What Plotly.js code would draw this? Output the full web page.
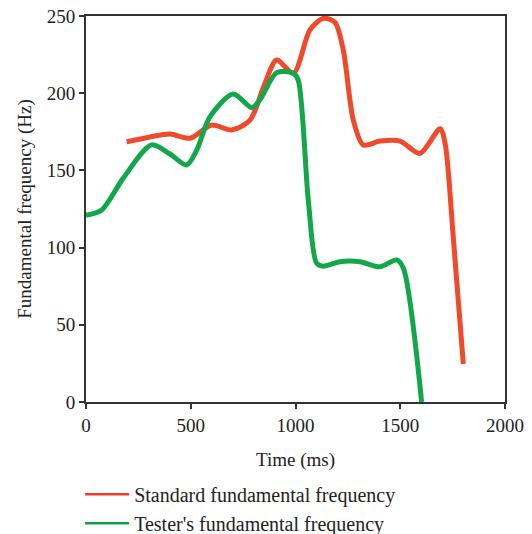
<!DOCTYPE html>
<html>
<head>
<meta charset="utf-8">
<script src="https://cdn.plot.ly/plotly-3.0.1.min.js"></script>
<style>html,body{margin:0;padding:0;background:#fff;}#chart{width:532px;height:534px;}</style>
</head>
<body>
<div id="chart"></div>
<script>
const standardTime = [194, 300, 401, 496, 600, 695, 783, 850, 910, 990, 1069, 1133, 1188, 1228, 1276, 1324, 1403, 1499, 1594, 1690, 1714, 1753, 1801];
const standardFreq = [168.6, 171.5, 173.6, 170.8, 179.4, 176.2, 182.6, 205, 221.5, 212.9, 241, 248.5, 246, 228, 182.6, 166.5, 169, 169, 161, 177, 167.6, 107, 24.6];
const testerTime = [0, 75, 178, 313, 401, 480, 528, 592, 703, 791, 830, 910, 990, 1013, 1061, 1101, 1133, 1212, 1308, 1403, 1483, 1515, 1602];
const testerFreq = [121, 124.4, 145, 166.5, 160.6, 153.5, 163, 184.8, 199.5, 190.6, 195.6, 213.3, 212.9, 208.5, 130.8, 89.8, 88, 90.9, 90.9, 87.6, 92, 86.6, 0];
const seriesNames = ["Standard fundamental frequency", "Tester's fundamental frequency"];
const seriesColors = ["#ef4a2c", "#12a84a"];
const xTicks = [0, 500, 1000, 1500, 2000];
const yTicks = [0, 50, 100, 150, 200, 250];

const font = {family: "Liberation Serif, Times New Roman, serif", size: 19, color: "#222"};
const legendFont = {family: "Liberation Serif, Times New Roman, serif", size: 20, color: "#222"};
const traces = [
  {x: standardTime, y: standardFreq, name: seriesNames[0], mode: "lines", showlegend: false,
   line: {color: seriesColors[0], width: 5, shape: "spline", smoothing: 0.8}},
  {x: testerTime, y: testerFreq, name: seriesNames[1], mode: "lines", showlegend: false,
   line: {color: seriesColors[1], width: 5, shape: "spline", smoothing: 0.8}},
  {x: [null], y: [null], name: seriesNames[0], mode: "lines", line: {color: "#ee3b2a", width: 2.5}},
  {x: [null], y: [null], name: seriesNames[1], mode: "lines", line: {color: "#0fa04a", width: 2.5}}
];
const axisCommon = {showline: true, mirror: true, linecolor: "#333", linewidth: 2,
  ticks: "outside", ticklen: 5, tickwidth: 2, tickcolor: "#333", showgrid: false, zeroline: false,
  tickfont: font, automargin: false};
const layout = {
  width: 532, height: 534,
  margin: {l: 86, r: 27, t: 16, b: 132},
  paper_bgcolor: "#fff", plot_bgcolor: "#fff",
  font: font,
  showlegend: true,
  legend: {xref: "paper", yref: "container", x: -0.014, xanchor: "left", y: 0.111, yanchor: "top",
    orientation: "v", font: legendFont, tracegroupgap: 0, itemwidth: 44, bgcolor: "rgba(0,0,0,0)"},
  xaxis: Object.assign({}, axisCommon, {range: [0, 2000], tickvals: xTicks, ticktext: xTicks.map(String),
    title: {text: "Time (ms)", font: font, standoff: 18}}),
  yaxis: Object.assign({}, axisCommon, {range: [0, 250], tickvals: yTicks, ticktext: yTicks.map(String),
    title: {text: "Fundamental frequency (Hz)", font: font, standoff: 10}})
};
Plotly.newPlot("chart", traces, layout, {displayModeBar: false, staticPlot: true});
</script>
</body>
</html>
